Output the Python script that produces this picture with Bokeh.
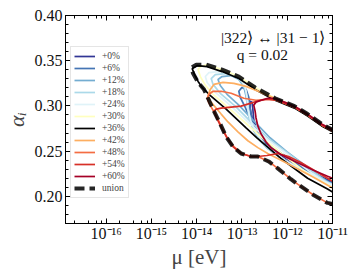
from bokeh.plotting import figure
from bokeh.models import (Range1d, LogAxis, LinearAxis, LogTicker, SingleIntervalTicker,
                          CustomJSTickFormatter, NumeralTickFormatter, Legend, LegendItem, Label)
from bokeh.embed import file_html
from bokeh.resources import INLINE

FONT = "Liberation Serif"

# ---- data: contours in (log10(mu/eV), alpha_i) ----
lmu_p00 = [-10.95, -11.00, -11.40, -11.92, -12.36, -12.54, -12.67, -12.74, -12.76, -12.78, -12.82,
           -12.82, -12.78, -12.69, -12.56, -12.25, -11.79, -11.35, -11.00, -10.95]
a_p00 = [0.2152, 0.2157, 0.2255, 0.2386, 0.2528, 0.2615, 0.2725, 0.2845, 0.2965, 0.3042, 0.3052,
         0.2976, 0.2856, 0.2736, 0.2626, 0.2506, 0.2375, 0.2244, 0.2146, 0.2141]

lmu_p06 = [-10.95, -11.00, -11.42, -11.97, -12.41, -12.58, -12.71, -12.78, -12.82, -12.85, -12.91,
           -13.00, -13.07, -13.04, -12.93, -12.82, -12.71, -12.54, -12.10, -11.44, -11.00, -10.95]
a_p06 = [0.2141, 0.2146, 0.2244, 0.2375, 0.2528, 0.2615, 0.2725, 0.2845, 0.2976, 0.3096, 0.3183,
         0.3205, 0.3162, 0.3096, 0.2987, 0.2856, 0.2736, 0.2626, 0.2463, 0.2244, 0.2135, 0.2130]

lmu_p12 = [-10.95, -11.00, -11.44, -12.01, -12.43, -12.60, -12.74, -12.82, -12.87, -12.91, -12.96,
           -13.07, -13.24, -13.44, -13.53, -13.48, -13.33, -13.07, -12.74, -12.38, -12.01, -11.46,
           -11.00, -10.95]
a_p12 = [0.2130, 0.2135, 0.2234, 0.2375, 0.2528, 0.2615, 0.2725, 0.2845, 0.2976, 0.3107, 0.3216,
         0.3293, 0.3336, 0.3325, 0.3293, 0.3227, 0.3129, 0.3009, 0.2834, 0.2648, 0.2495, 0.2288,
         0.2124, 0.2119]

lmu_p18 = [-10.95, -11.00, -11.46, -12.03, -12.45, -12.63, -12.76, -12.85, -12.87, -12.91, -13.00,
           -13.15, -13.37, -13.59, -13.68, -13.64, -13.48, -13.15, -12.78, -12.41, -12.03, -11.48,
           -11.00, -10.95]
a_p18 = [0.2130, 0.2135, 0.2234, 0.2386, 0.2539, 0.2637, 0.2758, 0.2889, 0.3031, 0.3162, 0.3260,
         0.3325, 0.3358, 0.3347, 0.3303, 0.3238, 0.3140, 0.2998, 0.2812, 0.2637, 0.2495, 0.2288,
         0.2113, 0.2108]

lmu_p24 = [-10.95, -11.00, -11.48, -12.05, -12.49, -12.67, -12.80, -12.87, -12.89, -12.93, -13.04,
           -13.24, -13.51, -13.73, -13.81, -13.77, -13.59, -13.24, -12.82, -12.43, -12.05, -11.51,
           -11.00, -10.95]
a_p24 = [0.2119, 0.2124, 0.2244, 0.2397, 0.2572, 0.2692, 0.2823, 0.2965, 0.3096, 0.3216, 0.3303,
         0.3358, 0.3380, 0.3369, 0.3325, 0.3260, 0.3151, 0.2998, 0.2801, 0.2626, 0.2485, 0.2277,
         0.2102, 0.2097]

lmu_p30 = [-10.95, -11.00, -11.24, -11.55, -11.84, -12.27, -12.71, -13.07, -13.44, -13.79, -13.92,
           -13.97, -13.92, -13.81, -13.64, -13.29, -12.85, -12.45, -12.10, -11.53, -11.09, -11.00,
           -10.95]
a_p30 = [0.2730, 0.2736, 0.2801, 0.2910, 0.2998, 0.3085, 0.3205, 0.3325, 0.3402, 0.3456, 0.3434,
         0.3402, 0.3325, 0.3227, 0.3129, 0.2976, 0.2779, 0.2604, 0.2463, 0.2244, 0.2124, 0.2092,
         0.2085]

lmu_p36 = [-10.95, -11.00, -11.24, -11.55, -11.84, -12.27, -12.71, -13.07, -13.44, -13.77, -13.99,
           -14.10, -14.05, -13.97, -13.88, -13.73, -13.35, -12.91, -12.67, -12.47, -12.14, -11.55,
           -11.11, -11.00, -10.95]
a_p36 = [0.2708, 0.2714, 0.2779, 0.2889, 0.2976, 0.3063, 0.3183, 0.3303, 0.3380, 0.3434, 0.3445,
         0.3413, 0.3347, 0.3271, 0.3205, 0.3129, 0.2965, 0.2757, 0.2648, 0.2561, 0.2419, 0.2201,
         0.2081, 0.2048, 0.2035]

lmu_p42 = [-10.95, -11.00, -11.24, -11.55, -11.84, -12.23, -12.43, -12.74, -12.91, -13.18, -13.42,
           -13.62, -13.70, -13.75, -13.70, -13.59, -13.46, -13.31, -13.09, -12.87, -12.65, -12.43,
           -11.92, -11.42, -11.00, -10.95]
a_p42 = [0.2719, 0.2725, 0.2790, 0.2900, 0.2987, 0.3074, 0.3118, 0.3183, 0.3216, 0.3249, 0.3260,
         0.3238, 0.3183, 0.3118, 0.3052, 0.2987, 0.2910, 0.2823, 0.2714, 0.2615, 0.2539, 0.2474,
         0.2343, 0.2212, 0.2092, 0.2087]

lmu_p48 = [-10.95, -11.00, -11.24, -11.55, -11.84, -12.23, -12.45, -12.69, -12.96, -13.24, -13.46,
           -13.64, -13.73, -13.77, -13.73, -13.59, -13.46, -13.33, -13.18, -13.00, -12.80, -12.65,
           -12.41, -12.21, -11.92, -11.77, -11.42, -11.11, -11.00, -10.95]
a_p48 = [0.2719, 0.2725, 0.2790, 0.2900, 0.2987, 0.3063, 0.3074, 0.3063, 0.3085, 0.3140, 0.3162,
         0.3162, 0.3129, 0.3085, 0.3031, 0.2910, 0.2779, 0.2648, 0.2550, 0.2474, 0.2441, 0.2441,
         0.2386, 0.2310, 0.2190, 0.2135, 0.2015, 0.1928, 0.1917, 0.1912]

lmu_p54 = [-10.95, -11.00, -11.24, -11.55, -11.84, -12.23, -12.45, -12.67, -12.80, -13.02, -13.24,
           -13.46, -13.57, -13.62, -13.55, -13.44, -13.33, -13.20, -13.02, -12.80, -12.65, -12.45,
           -12.21, -11.97, -11.70, -11.37, -11.00, -10.95]
a_p54 = [0.2719, 0.2725, 0.2790, 0.2900, 0.2987, 0.3063, 0.3074, 0.3052, 0.3031, 0.2998, 0.2987,
         0.2976, 0.2965, 0.2943, 0.2856, 0.2747, 0.2648, 0.2550, 0.2474, 0.2441, 0.2441, 0.2452,
         0.2474, 0.2441, 0.2375, 0.2277, 0.2168, 0.2163]

lmu_p60 = [-10.95, -11.00, -11.24, -11.55, -11.84, -12.27, -12.43, -12.58, -12.69, -12.74, -12.71,
           -12.69, -12.65, -12.58, -12.47, -12.36, -12.14, -11.92, -11.42, -11.11, -11.00, -10.95]
a_p60 = [0.2730, 0.2736, 0.2801, 0.2910, 0.2998, 0.3085, 0.3085, 0.3063, 0.3042, 0.3009, 0.2943,
         0.2867, 0.2779, 0.2692, 0.2604, 0.2539, 0.2463, 0.2408, 0.2288, 0.2223, 0.2201, 0.2196]

lmu_union = [-10.95, -11.00, -11.24, -11.55, -11.84, -12.27, -12.71, -13.07, -13.44, -13.79, -14.01,
             -14.12, -14.08, -13.97, -13.84, -13.75, -13.62, -13.48, -13.35, -13.20, -13.02, -12.80,
             -12.65, -12.41, -12.21, -11.92, -11.77, -11.42, -11.11, -11.00, -10.95]
a_union = [0.2730, 0.2736, 0.2801, 0.2910, 0.2998, 0.3085, 0.3205, 0.3325, 0.3402, 0.3456, 0.3456,
           0.3424, 0.3358, 0.3260, 0.3183, 0.3085, 0.2943, 0.2801, 0.2659, 0.2550, 0.2474, 0.2441,
           0.2441, 0.2386, 0.2310, 0.2190, 0.2135, 0.2015, 0.1928, 0.1917, 0.1912]

labels = ["+0%", "+6%", "+12%", "+18%", "+24%", "+30%", "+36%", "+42%", "+48%", "+54%", "+60%"]
colors = ["#313695", "#4575b4", "#74add1", "#abd9e9", "#e0f3f8", "#ffffbf", "#000000",
          "#fdae61", "#f46d43", "#d73027", "#a50026"]
curves_lmu = [lmu_p00, lmu_p06, lmu_p12, lmu_p18, lmu_p24, lmu_p30, lmu_p36, lmu_p42, lmu_p48,
              lmu_p54, lmu_p60]
curves_a = [a_p00, a_p06, a_p12, a_p18, a_p24, a_p30, a_p36, a_p42, a_p48, a_p54, a_p60]

x_min_exp, x_max_exp = -16.9, -11.0
y_min, y_max = 0.17, 0.40

p = figure(width=349, height=271, x_axis_type="log",
           x_range=Range1d(10 ** x_min_exp, 10 ** x_max_exp), y_range=Range1d(y_min, y_max),
           output_backend="svg", toolbar_location=None,
           min_border_left=63, min_border_right=17, min_border_top=15, min_border_bottom=45)
p.grid.visible = False
p.outline_line_color = "black"
p.outline_line_width = 1
p.background_fill_color = "white"

items = []
for lab, col, lx, a in zip(labels, colors, curves_lmu, curves_a):
    r = p.line([10 ** v for v in lx], a, line_color=col, line_width=1.7)
    items.append(LegendItem(label=lab, renderers=[r]))

r_union = p.line([10 ** v for v in lmu_union], a_union, line_color="black", line_alpha=0.85,
                 line_width=4, line_dash="10 5")
items.append(LegendItem(label="union", renderers=[r_union]))

legend = Legend(items=items, location=(5, 25))
legend.label_text_font = FONT
legend.label_text_font_size = "9.5px"
legend.label_height = 12
legend.glyph_height = 12
legend.glyph_width = 21
legend.spacing = 0
legend.padding = 3
legend.margin = 0
legend.label_standoff = 7
legend.border_line_color = "#cccccc"
legend.border_line_width = 1
legend.background_fill_alpha = 0.8
p.add_layout(legend)

sup_js = """
const sup = {"-":"\u207b","0":"\u2070","1":"\u00b9","2":"\u00b2","3":"\u00b3","4":"\u2074",
             "5":"\u2075","6":"\u2076","7":"\u2077","8":"\u2078","9":"\u2079"};
const e = Math.round(Math.log10(tick));
return "10" + String(e).split("").map(c => sup[c]).join("");
"""
blank_js = "return ' ';"

xax = p.xaxis[0]
xax.ticker = LogTicker()
xax.formatter = CustomJSTickFormatter(code=sup_js)
xax.axis_label = "μ [eV]"
yax = p.yaxis[0]
yax.ticker = SingleIntervalTicker(interval=0.05, num_minor_ticks=5)
yax.formatter = NumeralTickFormatter(format="0.00")
yax.axis_label = "αᵢ"

top = LogAxis(ticker=LogTicker(), formatter=CustomJSTickFormatter(code=blank_js))
right = LinearAxis(ticker=SingleIntervalTicker(interval=0.05, num_minor_ticks=5),
                   formatter=CustomJSTickFormatter(code=blank_js))
p.add_layout(top, "above")
p.add_layout(right, "right")

for ax in [xax, yax, top, right]:
    ax.axis_line_color = "black"
    ax.major_tick_line_color = "black"
    ax.minor_tick_line_color = "black"
    ax.major_tick_in = 5
    ax.major_tick_out = 0
    ax.minor_tick_in = 3
    ax.minor_tick_out = 0
    ax.major_label_text_font = FONT
    ax.axis_label_text_font = FONT
    ax.axis_label_text_font_style = "normal"

for ax in [top, right]:
    ax.major_label_text_font_size = "2px"
    ax.major_label_standoff = 0

for ax in [xax, yax]:
    ax.major_label_text_font_size = "16px"
    ax.major_label_text_color = "#111111"
xax.major_label_standoff = 1
xax.axis_label_standoff = 0
yax.major_label_standoff = 3
yax.axis_label_standoff = 3
xax.axis_label_text_font_size = "21px"
yax.axis_label_text_font_size = "22px"
yax.axis_label_text_font_style = "italic"

t1 = Label(x=10 ** -12.31, y=0.376, text="|322⟩ ↔ |31 − 1⟩", text_align="center",
           text_baseline="middle", text_font=FONT, text_font_size="15.5px", text_color="#111111")
t2 = Label(x=10 ** -12.55, y=0.3565, text="q = 0.02", text_align="center",
           text_baseline="middle", text_font=FONT, text_font_size="15.5px", text_color="#111111")
p.add_layout(t1)
p.add_layout(t2)

open("out.html", "w").write(file_html(p, INLINE))
